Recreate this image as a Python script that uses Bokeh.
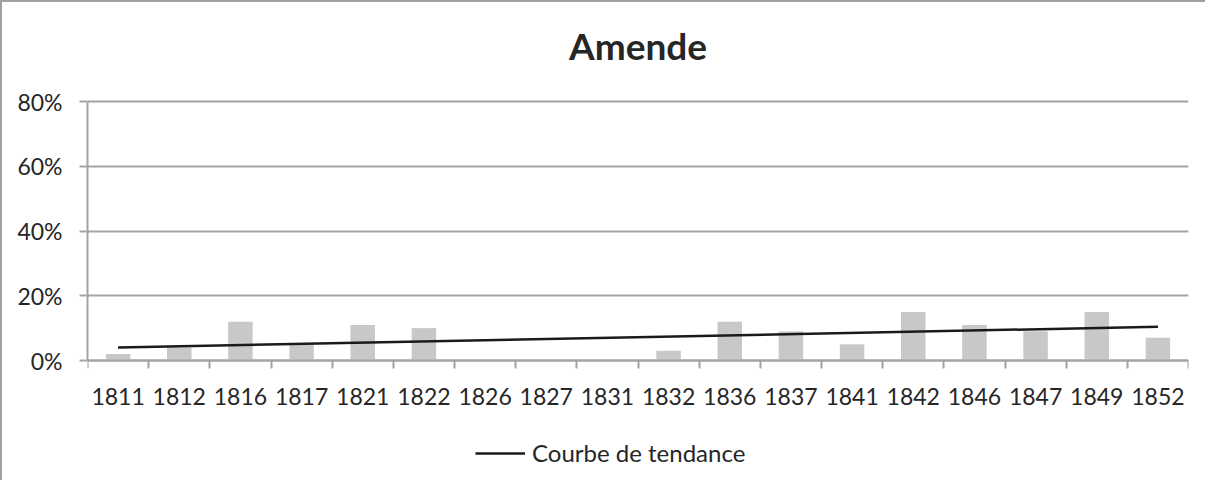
import numpy as np
from bokeh.plotting import figure
from bokeh.models import Range1d, FixedTicker, Legend, LegendItem, PrintfTickFormatter, Label
from bokeh.embed import file_html
from bokeh.resources import INLINE

title = "Amende"
years = ["1811", "1812", "1816", "1817", "1821", "1822", "1826", "1827", "1831",
         "1832", "1836", "1837", "1841", "1842", "1846", "1847", "1849", "1852"]
amende = [2, 4, 12, 5, 11, 10, 0, 0, 0, 3, 12, 9, 5, 15, 11, 9, 15, 7]
y_ticks = [0, 20, 40, 60, 80]

FONT = "Lato"
TXT = "#262626"
GRID = "#a3a3a3"

xpos = [i + 0.5 for i in range(len(years))]
slope, intercept = np.polyfit(xpos, amende, 1)
trend = [slope * x + intercept for x in xpos]

# the frame covers the whole canvas height; 80% sits 99 px below its top,
# 0% sits 259 px lower, and 122 px remain below 0%
PX = 259 / 80
y_bottom = -122 / PX
y_top = 80 + 99 / PX

p = figure(width=1205, height=480, output_backend="svg", toolbar_location=None,
           x_range=Range1d(0, len(years)), y_range=Range1d(y_bottom, y_top),
           min_border_left=85, min_border_right=19, min_border_top=0, min_border_bottom=0)
p.styles = {"border-left": "2px solid #a0a0a0", "border-top": "2px solid #a0a0a0"}
p.outline_line_color = None
p.background_fill_color = "white"

p.add_layout(Label(x=len(years) / 2, y=80 + 56 / PX, text=title, text_align="center",
                   text_baseline="middle", text_font=FONT, text_font_size="37px",
                   text_font_style="bold", text_color=TXT))

p.vbar(x=xpos, top=amende, width=0.4, fill_color="#c7c8ca", line_color=None)
r = p.line(x=[xpos[0], xpos[-1]], y=[trend[0], trend[-1]], line_color="#1a1a1a", line_width=2.5)

p.xgrid.visible = False
p.ygrid.grid_line_color = GRID
p.ygrid.grid_line_width = 2
p.ygrid.ticker = FixedTicker(ticks=y_ticks)

xa = p.xaxis[0]
xa.fixed_location = 0
xa.ticker = FixedTicker(ticks=xpos, minor_ticks=list(range(len(years) + 1)))
xa.major_label_overrides = {x: y for x, y in zip(xpos, years)}
xa.major_tick_out = 0
xa.major_tick_in = 0
xa.minor_tick_out = 8
xa.minor_tick_in = 0
xa.minor_tick_line_color = GRID
xa.minor_tick_line_width = 2
xa.axis_line_color = GRID
xa.axis_line_width = 2
xa.major_label_text_font = FONT
xa.major_label_text_font_size = "23px"
xa.major_label_text_color = TXT
xa.major_label_standoff = 19

ya = p.yaxis[0]
ya.bounds = (0, 80)
ya.ticker = FixedTicker(ticks=y_ticks)
ya.formatter = PrintfTickFormatter(format="%d%%")
ya.major_tick_out = 8
ya.major_tick_in = 0
ya.minor_tick_out = 0
ya.minor_tick_in = 0
ya.major_tick_line_color = GRID
ya.major_tick_line_width = 2
ya.axis_line_color = GRID
ya.axis_line_width = 2
ya.major_label_text_font = FONT
ya.major_label_text_font_size = "23px"
ya.major_label_text_color = TXT
ya.major_label_standoff = 17

legend = Legend(items=[LegendItem(label="Courbe de tendance", renderers=[r])],
                location=(388, 15), orientation="horizontal",
                glyph_width=50, label_standoff=7, padding=0, margin=0,
                border_line_color=None, background_fill_alpha=0,
                label_text_font=FONT, label_text_font_size="24px", label_text_color=TXT)
p.add_layout(legend, "center")

open("out.html", "w").write(file_html(p, INLINE))
